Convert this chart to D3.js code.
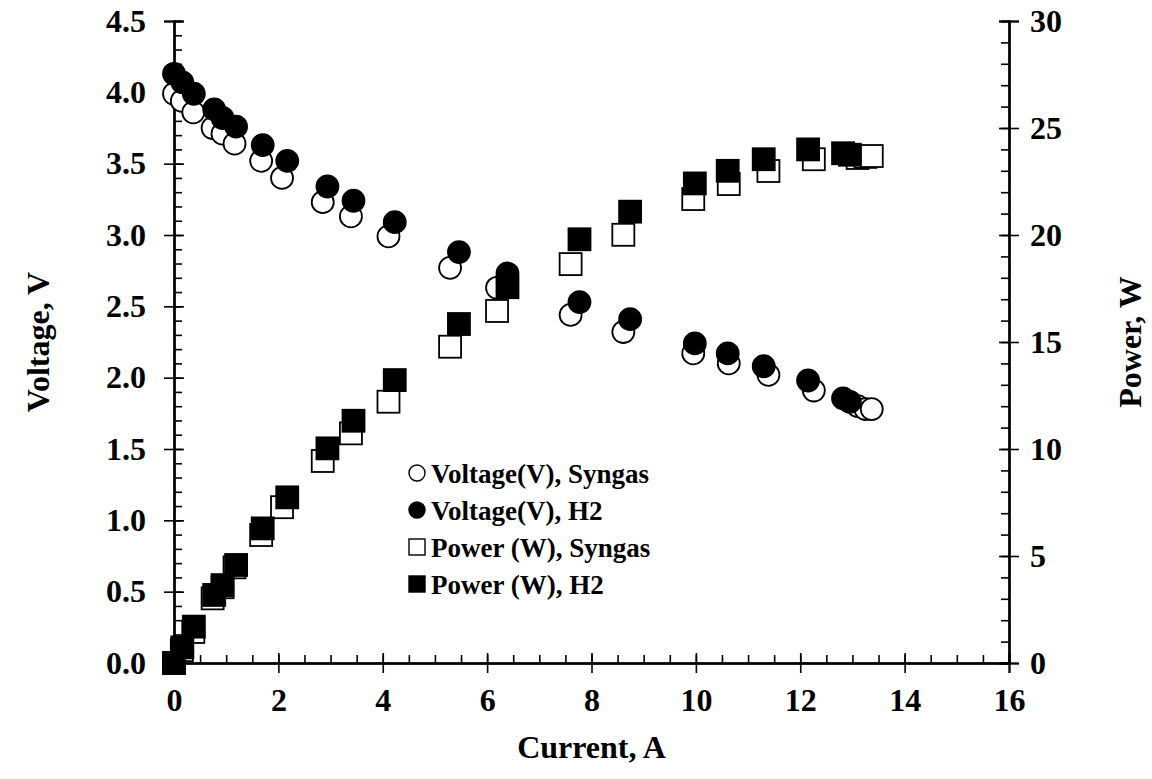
<!DOCTYPE html>
<html>
<head>
<meta charset="utf-8">
<script src="https://cdn.jsdelivr.net/npm/d3@7"></script>
<style>
  body { margin: 0; background: #fff; }
  svg { display: block; }
  text { font-family: "Liberation Serif", "Times New Roman", serif; font-weight: bold; fill: #000; }
  .domain { stroke: #000; stroke-width: 2; }
  .tick line { stroke: #000; stroke-width: 1.6; }
</style>
</head>
<body>
<div id="chart"></div>
<script>
// Syngas run
var currentSyngas = [0, 0.15, 0.37, 0.74, 0.93, 1.16, 1.67, 2.07, 2.85, 3.39, 4.11, 5.29, 6.19, 7.6, 8.61, 9.95, 10.63, 11.39, 12.26, 13.1, 13.25, 13.37];
var voltageSyngas = [3.99, 3.94, 3.86, 3.75, 3.71, 3.64, 3.52, 3.40, 3.23, 3.13, 2.99, 2.77, 2.63, 2.44, 2.32, 2.17, 2.10, 2.02, 1.91, 1.80, 1.78, 1.78];
var powerSyngas = [0, 0.6, 1.45, 3.02, 3.54, 4.47, 5.98, 7.28, 9.44, 10.73, 12.21, 14.78, 16.45, 18.64, 20.01, 21.68, 22.38, 22.99, 23.54, 23.6, 23.65, 23.69];

// H2 run
var currentH2 = [0, 0.16, 0.38, 0.77, 0.93, 1.19, 1.70, 2.17, 2.94, 3.44, 4.23, 5.46, 6.39, 7.77, 8.74, 9.98, 10.61, 11.3, 12.15, 12.82, 12.95];
var voltageH2 = [4.13, 4.07, 3.99, 3.88, 3.82, 3.76, 3.63, 3.52, 3.34, 3.24, 3.09, 2.88, 2.73, 2.53, 2.41, 2.24, 2.17, 2.08, 1.98, 1.855, 1.83];
var powerH2 = [0, 0.73, 1.70, 3.18, 3.64, 4.58, 6.29, 7.74, 10.03, 11.32, 13.22, 15.84, 17.56, 19.80, 21.09, 22.41, 23.0, 23.54, 24.0, 23.82, 23.75];

var xTicks = [0, 2, 4, 6, 8, 10, 12, 14, 16];
var voltTicks = [0, 0.5, 1.0, 1.5, 2.0, 2.5, 3.0, 3.5, 4.0, 4.5];
var powerTicks = [0, 5, 10, 15, 20, 25, 30];
var legendLabels = ["Voltage(V), Syngas", "Voltage(V), H2", "Power (W), Syngas", "Power (W), H2"];

var w = 1152;
var h = 779;
// plot box (window.top is reserved, so use other names)
var plotLeft = 174, plotRight = 1009, plotTop = 21, plotBottom = 663;

var svg = d3.select("#chart").append("svg").attr("width", w).attr("height", h);

var xScale = d3.scaleLinear().domain([0, 16]).range([plotLeft, plotRight]);
var yVolt = d3.scaleLinear().domain([0, 4.5]).range([plotBottom, plotTop]);
var yPower = d3.scaleLinear().domain([0, 30]).range([plotBottom, plotTop]);

// minor ticks (inside only)
svg.append("g").attr("transform", "translate(0," + plotBottom + ")")
  .call(d3.axisBottom(xScale).tickValues(d3.range(0, 16.01, 0.5)).tickSize(-8).tickFormat(""));
svg.append("g").attr("transform", "translate(" + plotLeft + ",0)")
  .call(d3.axisLeft(yVolt).tickValues(d3.range(0, 4.51, 0.1)).tickSize(-8).tickFormat(""));
svg.append("g").attr("transform", "translate(" + plotRight + ",0)")
  .call(d3.axisRight(yPower).tickValues(d3.range(0, 30.1, 1)).tickSize(-8).tickFormat(""));

// major ticks cross the axis line
svg.append("g").attr("transform", "translate(0," + plotBottom + ")")
  .call(d3.axisBottom(xScale).tickValues(xTicks).tickSize(-10).tickFormat(""));
svg.append("g").attr("transform", "translate(" + plotLeft + ",0)")
  .call(d3.axisLeft(yVolt).tickValues(voltTicks).tickSize(-10).tickFormat(""));
svg.append("g").attr("transform", "translate(" + plotRight + ",0)")
  .call(d3.axisRight(yPower).tickValues(powerTicks).tickSize(-10).tickFormat(""));

var xAxis = svg.append("g").attr("transform", "translate(0," + plotBottom + ")")
  .call(d3.axisBottom(xScale).tickValues(xTicks).tickSize(10).tickPadding(15).tickFormat(d3.format("d")));
var yAxisL = svg.append("g").attr("transform", "translate(" + plotLeft + ",0)")
  .call(d3.axisLeft(yVolt).tickValues(voltTicks).tickSize(10).tickPadding(18).tickFormat(d3.format(".1f")));
var yAxisR = svg.append("g").attr("transform", "translate(" + plotRight + ",0)")
  .call(d3.axisRight(yPower).tickValues(powerTicks).tickSize(10).tickPadding(11).tickFormat(d3.format("d")));

[xAxis, yAxisL, yAxisR].forEach(function (g) {
  g.selectAll("text").style("font-size", "32px");
  g.attr("font-family", null).attr("font-size", null);
});

// axis titles
svg.append("text").attr("x", (plotLeft + plotRight) / 2).attr("y", 758)
  .attr("text-anchor", "middle").style("font-size", "32px").text("Current, A");
svg.append("text").attr("transform", "translate(49," + (plotTop + plotBottom) / 2 + ") rotate(-90)")
  .attr("text-anchor", "middle").style("font-size", "32px").text("Voltage, V");
svg.append("text").attr("transform", "translate(1141," + (plotTop + plotBottom) / 2 + ") rotate(-90)")
  .attr("text-anchor", "middle").style("font-size", "32px").text("Power, W");

// points
function circles(xs, ys, scale, filled) {
  svg.append("g").selectAll("circle")
    .data(xs.map(function (d, i) { return [d, ys[i]]; }))
    .enter().append("circle")
    .attr("cx", function (d) { return xScale(d[0]); })
    .attr("cy", function (d) { return scale(d[1]); })
    .attr("r", 11)
    .attr("fill", filled ? "#000" : "#fff")
    .attr("stroke", "#000").attr("stroke-width", 1.8);
}
function squares(xs, ys, scale, filled) {
  svg.append("g").selectAll("rect")
    .data(xs.map(function (d, i) { return [d, ys[i]]; }))
    .enter().append("rect")
    .attr("x", function (d) { return xScale(d[0]) - 11; })
    .attr("y", function (d) { return scale(d[1]) - 11; })
    .attr("width", 22).attr("height", 22)
    .attr("fill", filled ? "#000" : "#fff")
    .attr("stroke", "#000").attr("stroke-width", 1.8);
}

circles(currentSyngas, voltageSyngas, yVolt, false);
squares(currentSyngas, powerSyngas, yPower, false);
circles(currentH2, voltageH2, yVolt, true);
squares(currentH2, powerH2, yPower, true);

// legend
var legend = svg.append("g").attr("transform", "translate(417,473)");
legendLabels.forEach(function (label, i) {
  var row = legend.append("g").attr("transform", "translate(0," + i * 37 + ")");
  if (i < 2) {
    row.append("circle").attr("r", 8)
      .attr("fill", i == 1 ? "#000" : "#fff").attr("stroke", "#000").attr("stroke-width", 1.4);
  } else {
    row.append("rect").attr("x", -8).attr("y", -8).attr("width", 16).attr("height", 16)
      .attr("fill", i == 3 ? "#000" : "#fff").attr("stroke", "#000").attr("stroke-width", 1.4);
  }
  row.append("text").attr("x", 14).attr("y", 10).style("font-size", "27px").text(label);
});
</script>
</body>
</html>
